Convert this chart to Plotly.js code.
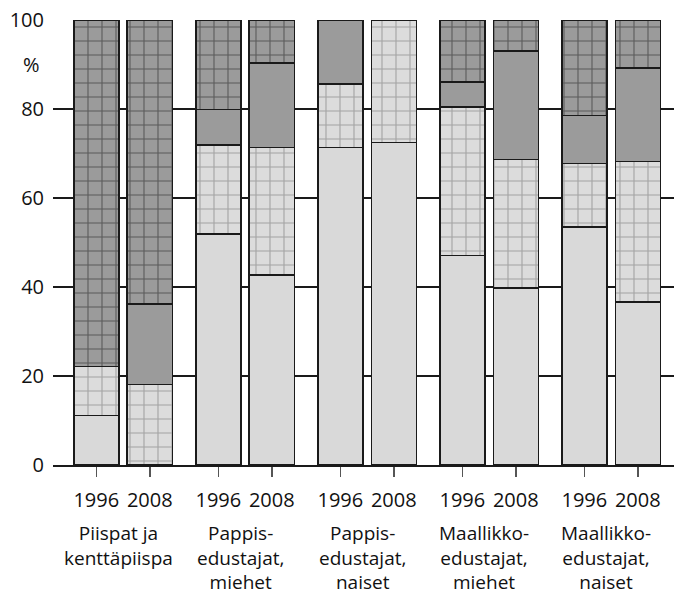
<!DOCTYPE html>
<html>
<head>
<meta charset="utf-8">
<script src="https://cdn.plot.ly/plotly-3.0.1.min.js"></script>
<style>html,body{margin:0;padding:0;background:#fff;}#chart{width:674px;height:596px;}</style>
</head>
<body>
<div id="chart"></div>
<script>
// Data
var groups = ["Piispat ja<br>kenttäpiispa", "Pappis-<br>edustajat,<br>miehet", "Pappis-<br>edustajat,<br>naiset", "Maallikko-<br>edustajat,<br>miehet", "Maallikko-<br>edustajat,<br>naiset"];
var years = ["1996", "2008"];
// segment heights (%), bottom to top, order: g0-1996, g0-2008, g1-1996, ...
var lightSolid = [11.1, 0, 51.9, 42.7, 71.3, 72.5, 47.1, 39.8, 53.5, 36.6];
var lightGrid  = [11.0, 18.1, 20.0, 28.6, 14.3, 27.5, 33.4, 28.9, 14.3, 31.6];
var darkSolid  = [0, 18.1, 8.0, 19.0, 14.4, 0, 5.6, 24.3, 10.7, 21.0];
var darkGrid   = [77.9, 63.8, 20.1, 9.7, 0, 0, 13.9, 7.0, 21.5, 10.8];
var yTicks = [0, 20, 40, 60, 80, 100];

var xs = [], xt = [];
for (var g = 0; g < groups.length; g++) {
  for (var k = 0; k < years.length; k++) {
    xs.push(g + (k === 0 ? -0.219 : 0.219));
    xt.push(years[k]);
  }
}
var FONT = "Open Sans, Noto Sans, sans-serif";
var lineStyle = {color: '#1a1a1a', width: 1.5};
function tr(vals, color, pattern) {
  var m = {color: color, line: lineStyle};
  if (pattern) m.pattern = pattern;
  return {type: 'bar', x: xs, y: vals, width: 0.369, marker: m, hoverinfo: 'none', showlegend: false};
}
var data = [
  tr(lightSolid, '#d9d9d9'),
  tr(lightGrid, '#d9d9d9', {shape: '+', bgcolor: '#dcdcdc', fgcolor: '#a3a3a3', size: 14, solidity: 0.15, fillmode: 'replace'}),
  tr(darkSolid, '#9b9b9b'),
  tr(darkGrid, '#9b9b9b', {shape: '+', bgcolor: '#9b9b9b', fgcolor: '#5a5a5a', size: 14, solidity: 0.15, fillmode: 'replace'})
];
var ann = [{xref: 'paper', yref: 'y', x: 0, y: 90, xanchor: 'right', yanchor: 'middle', xshift: -11, text: '%', showarrow: false, font: {family: FONT, size: 20, color: '#111'}}];
for (var g2 = 0; g2 < groups.length; g2++) {
  ann.push({xref: 'x', yref: 'paper', x: g2, y: 0, yanchor: 'top', xanchor: 'center', yshift: -55, xshift: -5,
    borderpad: 0, borderwidth: 0,
    text: groups[g2], showarrow: false, align: 'center', font: {family: FONT, size: 19, color: '#111'}});
}
var layout = {
  width: 674, height: 596,
  margin: {l: 53, r: 0, t: 20, b: 131, pad: 0},
  paper_bgcolor: '#fff', plot_bgcolor: '#fff',
  barmode: 'stack',
  font: {family: FONT, size: 20, color: '#111'},
  xaxis: {range: [-0.574, 4.516], tickvals: xs, ticktext: xt, ticks: 'outside', ticklen: 10, tickwidth: 1.5, tickcolor: '#555',
    showgrid: false, zeroline: false, showline: true, linecolor: '#1a1a1a', linewidth: 1.5, fixedrange: true,
    ticklabelstandoff: 6, tickfont: {family: FONT, size: 20, color: '#111'}},
  yaxis: {range: [0, 100], tickvals: yTicks, ticks: '', showgrid: true, gridcolor: '#1a1a1a', gridwidth: 1.2, zeroline: false,
    showline: false, fixedrange: true, ticklabelstandoff: 8, tickfont: {family: FONT, size: 20, color: '#111'}},
  annotations: ann
};
Plotly.newPlot('chart', data, layout, {staticPlot: true, displayModeBar: false});
</script>
</body>
</html>
